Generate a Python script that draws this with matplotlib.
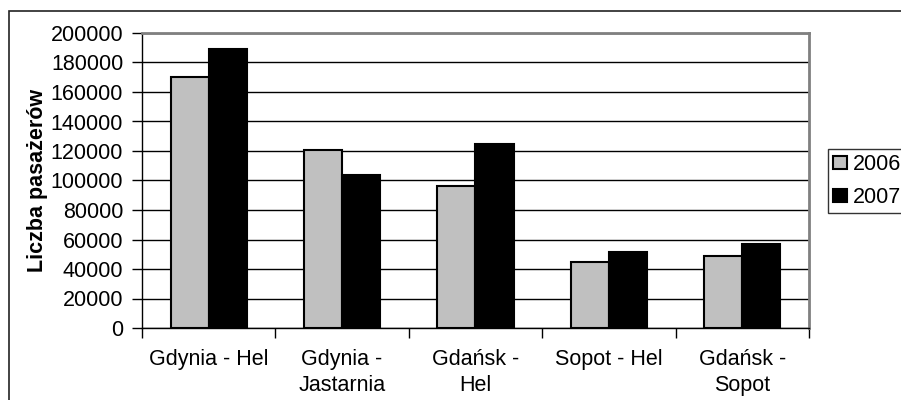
import numpy as np
import matplotlib.pyplot as plt
from matplotlib.patches import Rectangle

plt.rcParams['font.family'] = ['Liberation Sans', 'DejaVu Sans']

routes = ["Gdynia - Hel", "Gdynia -\nJastarnia", "Gdańsk -\nHel", "Sopot - Hel", "Gdańsk -\nSopot"]
years = ["2006", "2007"]
passengers_2006 = [170000, 121000, 96000, 44500, 49000]
passengers_2007 = [189000, 104000, 124500, 51500, 57000]

fs = 15.5

fig = plt.figure(figsize=(9.01, 4.0), dpi=100)
ax = fig.add_axes([142 / 901, 72 / 400, 667 / 901, 295 / 400])

# outer chart frame, its right and bottom edges fall off the canvas
fig.patches.append(Rectangle((9 / 901, -0.1), 1.2, (400 - 11) / 400 + 0.1,
                             transform=fig.transFigure, fill=False,
                             edgecolor='#222222', linewidth=1.2))

x = np.arange(len(routes))
w = 0.286
ax.bar(x - w / 2, passengers_2006, w, color='#c0c0c0', edgecolor='black',
       linewidth=1.5, label=years[0], zorder=3)
ax.bar(x + w / 2, passengers_2007, w, color='black', edgecolor='black',
       linewidth=1.5, label=years[1], zorder=3)

ax.set_xlim(-0.5, len(routes) - 0.5)
ax.set_ylim(0, 200000)
ax.set_yticks(np.arange(0, 200001, 20000))
ax.yaxis.grid(True, color='black', linewidth=1)
ax.set_axisbelow(True)

ax.set_xticks(x)
ax.set_xticklabels(routes, fontsize=fs, linespacing=1.3)
ax.set_xticks(np.arange(-0.5, len(routes)), minor=True)
ax.tick_params(axis='x', which='major', length=0, pad=15)
ax.tick_params(axis='x', which='minor', length=7, width=1, direction='out')
ax.tick_params(axis='y', length=7, width=1, direction='out', labelsize=fs, pad=6.5)

for side in ('left', 'bottom'):
    ax.spines[side].set_color('black')
    ax.spines[side].set_linewidth(1)
for side in ('top', 'right'):
    ax.spines[side].set_color('#808080')
    ax.spines[side].set_linewidth(2)

fig.text(38 / 901, 1 - 180 / 400, "Liczba pasażerów", rotation=90, ha='center',
         va='center', fontsize=15.5, fontweight='bold')

leg = ax.legend(loc='center left', bbox_to_anchor=(828 / 901, 1 - 181 / 400),
                bbox_transform=fig.transFigure, fontsize=fs, frameon=True,
                fancybox=False, shadow=False, borderpad=0.25, borderaxespad=0,
                handlelength=0.65, handleheight=0.55, handletextpad=0.25,
                labelspacing=0.55)
leg.get_frame().set_edgecolor('black')
leg.get_frame().set_linewidth(1)

fig.savefig("out.png", dpi=100)
